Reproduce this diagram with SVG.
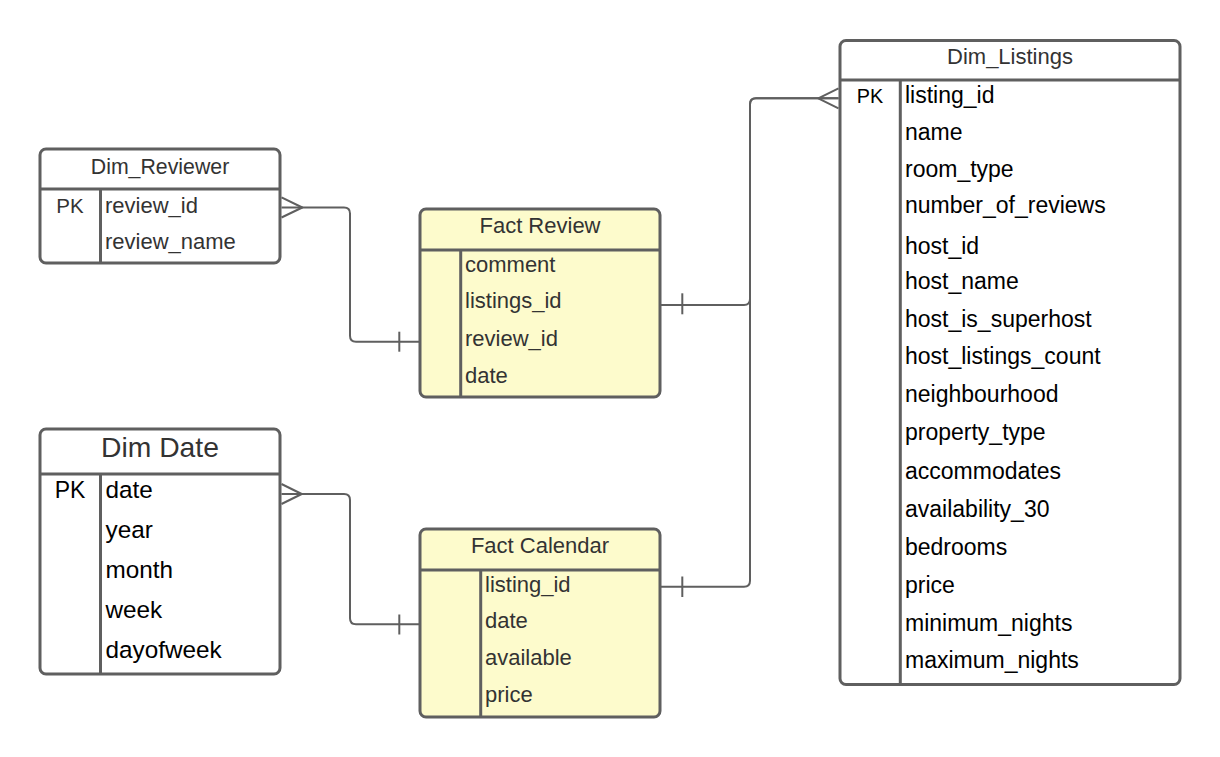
<svg xmlns="http://www.w3.org/2000/svg" width="1220" height="757" viewBox="0 0 1220 757">
<style>
.box{fill:#ffffff;stroke:#5f5f5f;stroke-width:3}
.fact{fill:#fdfbcc;stroke:#5f5f5f;stroke-width:3}
.div{stroke:#5f5f5f;stroke-width:3;fill:none}
.conn{stroke:#5f5f5f;stroke-width:2;fill:none;stroke-linejoin:round}
text{font-family:"Liberation Sans",Arial,sans-serif}
.hd{fill:#333333;font-size:22px;text-anchor:middle}
.g{fill:#333333;font-size:22px}
.k{fill:#000000;font-size:23px}
.pk{text-anchor:middle}
</style>
<rect width="1220" height="757" fill="#ffffff"/>

<g id="dim_reviewer">
<rect class="box" x="40" y="149" width="240" height="114" rx="6"/>
<line class="div" x1="40" y1="189" x2="280" y2="189"/>
<line class="div" x1="100.5" y1="189" x2="100.5" y2="263"/>
<text class="hd" x="160" y="174" style="font-size:21.3px">Dim_Reviewer</text>
<text class="g pk" x="70" y="212.7" style="font-size:20.5px">PK</text>
<text class="g" x="105" y="212.7">review_id</text>
<text class="g" x="105" y="249.3">review_name</text>
</g>

<g id="fact_review">
<rect class="fact" x="420" y="209" width="240" height="188" rx="6"/>
<line class="div" x1="420" y1="250" x2="660" y2="250"/>
<line class="div" x1="460.7" y1="250" x2="460.7" y2="397"/>
<text class="hd" x="540" y="232.7">Fact Review</text>
<text class="g" x="465" y="271.7">comment</text>
<text class="g" x="465" y="308.3">listings_id</text>
<text class="g" x="465" y="345.7">review_id</text>
<text class="g" x="465" y="382.7">date</text>
</g>

<g id="dim_date">
<rect class="box" x="40" y="429" width="240" height="245" rx="6"/>
<line class="div" x1="40" y1="474" x2="280" y2="474"/>
<line class="div" x1="100.5" y1="474" x2="100.5" y2="674"/>
<text class="hd" x="160" y="456.7" style="font-size:28.3px">Dim Date</text>
<text class="k pk" x="70" y="498.3" style="font-size:23px">PK</text>
<text class="k" x="105.5" y="498.3" style="font-size:24.3px">date</text>
<text class="k" x="105.5" y="538.3" style="font-size:24.3px">year</text>
<text class="k" x="105.5" y="578.3" style="font-size:24.3px">month</text>
<text class="k" x="105.5" y="618.3" style="font-size:24.3px">week</text>
<text class="k" x="105.5" y="658.3" style="font-size:24.3px">dayofweek</text>
</g>

<g id="fact_calendar">
<rect class="fact" x="420" y="529" width="240" height="188" rx="6"/>
<line class="div" x1="420" y1="570" x2="660" y2="570"/>
<line class="div" x1="480.7" y1="570" x2="480.7" y2="717"/>
<text class="hd" x="540" y="553.3">Fact Calendar</text>
<text class="g" x="485" y="591.7">listing_id</text>
<text class="g" x="485" y="628.3">date</text>
<text class="g" x="485" y="665">available</text>
<text class="g" x="485" y="701.7">price</text>
</g>

<g id="dim_listings">
<rect class="box" x="840" y="40.5" width="340" height="644" rx="6"/>
<line class="div" x1="840" y1="80" x2="1180" y2="80"/>
<line class="div" x1="900.3" y1="80" x2="900.3" y2="684.5"/>
<text class="hd" x="1010" y="64.3">Dim_Listings</text>
<text class="k pk" x="870" y="103.3" style="font-size:19.8px">PK</text>
<text class="k" x="905" y="103.3">listing_id</text>
<text class="k" x="905" y="140">name</text>
<text class="k" x="905" y="177">room_type</text>
<text class="k" x="905" y="213.3">number_of_reviews</text>
<text class="k" x="905" y="254">host_id</text>
<text class="k" x="905" y="289.3">host_name</text>
<text class="k" x="905" y="326.7">host_is_superhost</text>
<text class="k" x="905" y="364.3">host_listings_count</text>
<text class="k" x="905" y="401.7">neighbourhood</text>
<text class="k" x="905" y="440">property_type</text>
<text class="k" x="905" y="479.3">accommodates</text>
<text class="k" x="905" y="517.3">availability_30</text>
<text class="k" x="905" y="555">bedrooms</text>
<text class="k" x="905" y="592.7">price</text>
<text class="k" x="905" y="630.7">minimum_nights</text>
<text class="k" x="905" y="668.3">maximum_nights</text>
</g>

<g id="connectors">
<path class="conn" d="M281.5,207.5 H344 Q350,207.5 350,213.5 V335.7 Q350,341.7 356,341.7 H420"/>
<path class="conn" d="M281.5,197.3 L302.3,207.5 L281.5,217.5"/>
<line class="conn" x1="399.3" y1="331.7" x2="399.3" y2="351.7"/>
<path class="conn" d="M281.5,494 H344 Q350,494 350,500 V618.3 Q350,624.3 356,624.3 H420"/>
<path class="conn" d="M281.5,484 L301.7,494 L281.5,504"/>
<line class="conn" x1="399.3" y1="614.5" x2="399.3" y2="634.5"/>
<path class="conn" d="M660,305 H744 Q750,305 750,299 V104.3 Q750,98.3 756,98.3 H838.5"/>
<line class="conn" x1="682.3" y1="293.3" x2="682.3" y2="314.3"/>
<path class="conn" d="M660,586.7 H744 Q750,586.7 750,580.7 V104.3 Q750,98.3 756,98.3 H838.5"/>
<line class="conn" x1="682.3" y1="576.5" x2="682.3" y2="597"/>
<path class="conn" d="M838.5,88.3 L818.3,98.3 L838.5,108.3"/>
</g>
</svg>
